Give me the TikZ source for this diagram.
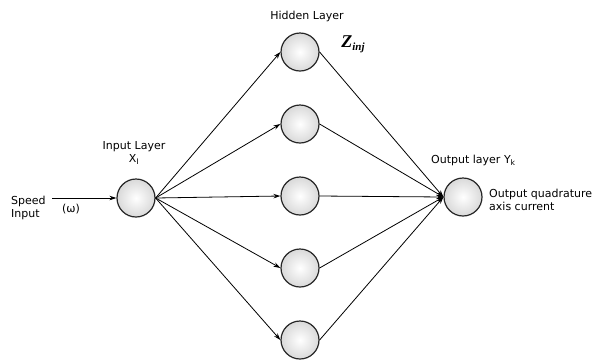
\documentclass[tikz,border=0pt]{standalone}
\usepackage{fontspec}
\setmainfont{DejaVu Sans}
\newfontfamily\zfont{Liberation Serif}
\usetikzlibrary{arrows.meta}
\begin{document}
\begin{tikzpicture}[x=1pt,y=-1pt,
  neuron/.style={circle,draw=black!85,line width=1.2pt,minimum size=38pt,inner sep=0pt,
    inner color=white,outer color=black!15},
  conn/.style={line width=0.8pt,-{Stealth[length=7pt,width=4.5pt]}},
  lbl/.style={font=\fontsize{11}{13}\selectfont,inner sep=0pt,align=left}]
\useasboundingbox (0,0) rectangle (592,360);
\node[neuron] (in) at (136,198) {};
\foreach \i/\y in {1/52,2/124,3/196,4/268,5/340}
  \node[neuron] (h\i) at (300,\y) {};
\node[neuron] (out) at (463,197) {};
\coordinate (src) at (52,198);
\draw[conn] (src) -- (in.west);
\foreach \i in {1,...,5} {
  \draw[conn] (in.east) -- (h\i.west);
  \draw[conn] (h\i.east) -- (out.west);
}
\node[lbl,anchor=west] (sp) at (11,208) {Speed\\Input};
\node[lbl] (om) at (71,209) {(ω)};
\node[lbl,align=center] (il) at (134,153) {Input Layer\\X\textsubscript{I}};
\node[lbl] (hl) at (307,16) {Hidden Layer};
\node[inner sep=0pt] (z) at (353,44) {\zfont\bfseries\itshape\fontsize{18}{18}\selectfont Z\raisebox{-3pt}{\fontsize{11}{11}\selectfont inj}};
\node[lbl,anchor=west] (ol) at (431,160) {Output layer Y\textsubscript{k}};
\node[lbl,anchor=west] (oq) at (489,200) {Output quadrature\\axis current};
\end{tikzpicture}
\end{document}
